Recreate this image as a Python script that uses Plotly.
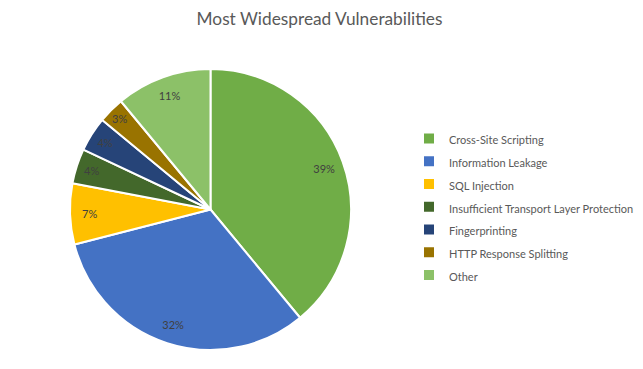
import plotly.graph_objects as go

categories = ["Cross-Site Scripting", "Information Leakage", "SQL Injection",
              "Insufficient Transport Layer Protection", "Fingerprinting",
              "HTTP Response Splitting", "Other"]
values = [39, 32, 7, 4, 4, 3, 11]
colors = ["#70AD47", "#4472C4", "#FFC000", "#43682B", "#264478", "#997300", "#8CC168"]

# page body has an 8px margin, so the figure is sized to the visible area
W, H = 635, 361
dom = dict(x=[62/W, 343/W], y=[1-342/H, 1-61/H])
legend_labels = ['<span style="font-size:11px">%s</span>' % c for c in categories]

fig = go.Figure()
# filled pie with legend
fig.add_trace(go.Pie(
    labels=legend_labels, values=values, sort=False, direction="clockwise", rotation=0,
    marker=dict(colors=colors, line=dict(color="white", width=2)),
    textinfo="none", domain=dom, hovertext=categories, hoverinfo="text+percent",
))
# transparent ring carrying the percentage labels near the rim
fig.add_trace(go.Pie(
    labels=legend_labels, values=values, sort=False, direction="clockwise", rotation=0,
    hole=0.72, showlegend=False,
    marker=dict(colors=["rgba(0,0,0,0)"] * len(values), line=dict(width=0)),
    textinfo="percent", textposition="inside", insidetextorientation="horizontal",
    textfont=dict(family="Lato", size=11, color="#404040"),
    domain=dom, hoverinfo="skip",
))
fig.update_layout(
    width=W, height=H, margin=dict(l=0, r=0, t=0, b=0, autoexpand=False),
    paper_bgcolor="white", plot_bgcolor="white",
    title=dict(text="Most Widespread Vulnerabilities", x=311.5/W, xref="paper", xanchor="center",
               y=1-10.5/H, yanchor="middle",
               font=dict(family="Lato", size=17.3, color="#595959")),
    legend=dict(x=401/W, y=1-114/H, xanchor="left", yanchor="top",
                font=dict(family="Lato", size=15.2, color="#595959"),
                tracegroupgap=0),
    uniformtext=dict(minsize=11, mode="show"),
)
fig.write_html("out.html")
